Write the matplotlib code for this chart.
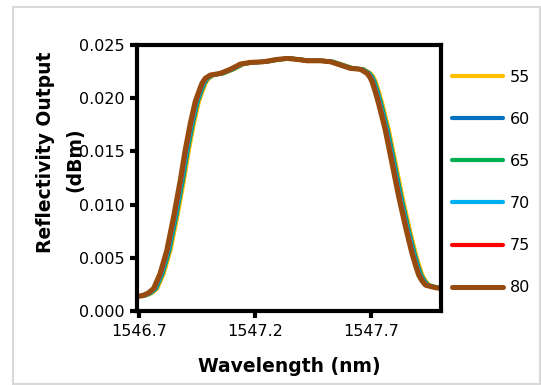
import matplotlib
matplotlib.use('Agg')
import matplotlib.pyplot as plt
from matplotlib.patches import Rectangle

# base spectrum
wavelength = [1546.700, 1546.719, 1546.740, 1546.762, 1546.790, 1546.819, 1546.848,
              1546.877, 1546.898, 1546.920, 1546.941, 1546.956, 1546.970, 1546.984,
              1547.006, 1547.049, 1547.092, 1547.135, 1547.178, 1547.236, 1547.293,
              1547.337, 1547.380, 1547.423, 1547.480, 1547.523, 1547.566, 1547.609,
              1547.653, 1547.681, 1547.693, 1547.703, 1547.717, 1547.731, 1547.760,
              1547.789, 1547.818, 1547.847, 1547.875, 1547.890, 1547.904, 1547.918,
              1547.933, 1547.969, 1547.997]
reflectivity = [0.00140, 0.00150, 0.00172, 0.00213, 0.00354, 0.00573, 0.00886,
                0.01231, 0.01513, 0.01764, 0.01967, 0.02060, 0.02140, 0.02187,
                0.02218, 0.02234, 0.02272, 0.02321, 0.02337, 0.02343, 0.02365,
                0.02374, 0.02365, 0.02352, 0.02352, 0.02343, 0.02312, 0.02281,
                0.02272, 0.02234, 0.02200, 0.02155, 0.02060, 0.01952, 0.01701,
                0.01388, 0.01074, 0.00792, 0.00542, 0.00432, 0.00338, 0.00285,
                0.00244, 0.00223, 0.00213]

labels = ['55', '60', '65', '70', '75', '80']
shifts = [0.016, 0.011, 0.009, 0.006, 0.003, 0.0]  # nm, per series
colors = ['#FFC000', '#0070C0', '#00B050', '#00B0F0', '#FF0000', '#974B0E']

fig = plt.figure(figsize=(5.41, 3.85), dpi=100)
ax = fig.add_axes([0.253, 0.192, 0.562, 0.691])

for lab, s, c in zip(labels, shifts, colors):
    ax.plot([w + s for w in wavelength], reflectivity, color=c,
            lw=3.6 if lab == '80' else 3.0, label=lab,
            solid_capstyle='round', solid_joinstyle='round')

ax.set_xlim(1546.69, 1548.0)
ax.set_ylim(0, 0.025)
ax.set_xticks([1546.7, 1547.2, 1547.7])
ax.set_xticklabels(['1546.7', '1547.2', '1547.7'])
ax.set_yticks([0, 0.005, 0.010, 0.015, 0.020, 0.025])
ax.set_yticklabels(['0.000', '0.005', '0.010', '0.015', '0.020', '0.025'])
ax.tick_params(labelsize=11.5, width=3, length=5, direction='out', pad=4)

for sp in ax.spines.values():
    sp.set_linewidth(3)

ax.set_xlabel('Wavelength (nm)', fontsize=13.5, fontweight='bold', labelpad=13)
fig.text(46 / 541, 1 - 152 / 385, 'Reflectivity Output', rotation=90, fontsize=13.5,
         fontweight='bold', ha='center', va='center')
fig.text(75 / 541, 1 - 160 / 385, '(dBm)', rotation=90, fontsize=13.5,
         fontweight='bold', ha='center', va='center')

ax.legend(loc='upper left', bbox_to_anchor=(1.0, 0.95), frameon=False, fontsize=11.5,
          handlelength=3.2, handletextpad=0.4, labelspacing=1.7, borderaxespad=0.3)

fig.patches.append(Rectangle((13 / 541, 1 / 385), 527 / 541, 377 / 385,
                             transform=fig.transFigure, fill=False,
                             edgecolor='#d9d9d9', lw=1.5))

fig.savefig('out.png', dpi=100)
